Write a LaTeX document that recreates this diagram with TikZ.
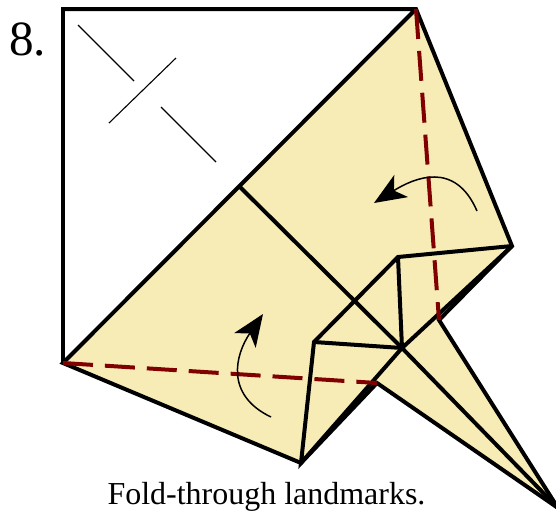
\documentclass[tikz,border=0pt]{standalone}
\usepackage{fontspec}
\setmainfont{Liberation Serif}
\usetikzlibrary{arrows.meta}
\definecolor{paper}{HTML}{F7ECB6}
\definecolor{valley}{HTML}{800000}

\begin{document}
\begin{tikzpicture}[x=0.02cm, y=-0.02cm,
  edge/.style={draw=black, line width=0.08cm, line join=miter},
  crease/.style={draw=black, line width=0.022cm},
  fold/.style={draw=valley, line width=0.08cm, dash pattern=on 0.6cm off 0.24cm},
  turn/.style={draw=black, line width=0.03cm, -{Stealth[length=0.64cm, width=0.52cm, inset=0.17cm]}}]
\useasboundingbox (0,0) rectangle (556,512);
% corners of the sheet
\coordinate (tl) at (63,9);
\coordinate (tr) at (416,9);
\coordinate (bl) at (63,363);
\coordinate (rt) at (512,246);
\coordinate (ri) at (398,257);
\coordinate (li) at (314,342);
\coordinate (bt) at (301,463);
\coordinate (mid) at (402,348);
\coordinate (nr) at (439,320);
\coordinate (nl) at (377,383);
\coordinate (tip) at (558,508);
\coordinate (dg) at (240,187);
\fill[paper] (bl) -- (tr) -- (rt) -- (nr) -- (tip) -- (nl) -- (bt) -- cycle;
\draw[edge] (bl) -- (tl) -- (tr) -- (rt) -- (nr) -- (tip) -- (nl) -- (bt) -- (bl) -- (tr);
\draw[edge] (dg) -- (mid) -- (tip);
\draw[edge] (rt) -- (ri) -- (li) -- (bt) -- (mid) -- (rt);
\draw[edge] (li) -- (mid) -- (ri);
% landmarks
\draw[crease] (78,25) -- (134,81);
\draw[crease] (176,58) -- (109,123);
\draw[crease] (161,107) -- (216,162);
\draw[fold] (bl) -- (nl);
\draw[fold] (tr) -- (nr);
\draw[turn] (271,417) .. controls (225,395) and (235,355) .. (263,314);
\draw[turn] (477,211) .. controls (455,160) and (414,178) .. (374,203);
\node[font=\fontsize{28}{28}\selectfont, anchor=base west, inner sep=0pt] (num) at (9,55) {8.};
\node[font=\fontsize{18.2}{20}\selectfont, anchor=base, inner sep=0pt] (cap) at (266.5,504.5) {Fold-through landmarks.};
\end{tikzpicture}
\end{document}
